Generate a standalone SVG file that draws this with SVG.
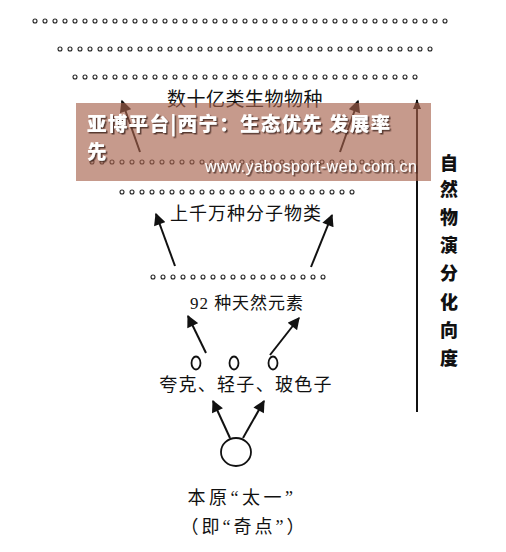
<svg xmlns="http://www.w3.org/2000/svg" width="506" height="552" viewBox="0 0 506 552">
<defs>
<style>
.t{font-family:"Liberation Serif","Noto Sans CJK SC",serif;fill:#111;text-anchor:middle}
.v{font-family:"Noto Sans CJK SC",sans-serif;font-weight:900;font-size:18px;fill:#111;text-anchor:middle}
.ln{stroke:#111;stroke-width:2;fill:none}
.ttl{font-family:"Noto Sans CJK SC",sans-serif;font-weight:900;font-size:19.5px;fill:#fff}
</style>
<marker id="ah" viewBox="0 0 10 10" refX="9" refY="5" markerWidth="6.5" markerHeight="6" markerUnits="strokeWidth" orient="auto">
<path d="M0,0 L10,5 L0,10 z" fill="#111"/>
</marker>
<marker id="ah2" viewBox="0 0 10 10" refX="9" refY="5" markerWidth="5" markerHeight="5" markerUnits="strokeWidth" orient="auto">
<path d="M0,1 L10,5 L0,9 z" fill="#111"/>
</marker>
<pattern id="dots" patternUnits="userSpaceOnUse" width="10" height="10" x="0" y="0">
<circle cx="5" cy="5" r="2" fill="#fff" stroke="#222" stroke-width="1.1"/>
</pattern>
<filter id="sh" x="-5%" y="-20%" width="110%" height="140%">
<feDropShadow dx="1.5" dy="1.5" stdDeviation="0.6" flood-color="#3a2018" flood-opacity="0.8"/>
</filter>
</defs>
<rect width="506" height="552" fill="#fff"/>

<g id="dot-rows">
<rect x="0" y="0" width="420" height="10" fill="url(#dots)" transform="translate(30,16)"/>
<rect x="0" y="0" width="380" height="10" fill="url(#dots)" transform="translate(55,44)"/>
<rect x="0" y="0" width="350" height="10" fill="url(#dots)" transform="translate(70,72)"/>
<rect x="0" y="0" width="320" height="10" fill="url(#dots)" transform="translate(87,157)"/>
<rect x="0" y="0" width="240" height="10" fill="url(#dots)" transform="translate(117,187)"/>
<rect x="0" y="0" width="180" height="10" fill="url(#dots)" transform="translate(148,272)"/>
</g>

<g id="connectors">
<line class="ln" x1="140" y1="152" x2="122" y2="101" marker-end="url(#ah)"/>
<line class="ln" x1="340" y1="152" x2="358" y2="101" marker-end="url(#ah)"/>
<line class="ln" x1="175" y1="266" x2="156" y2="214" marker-end="url(#ah)"/>
<line class="ln" x1="311" y1="267" x2="332" y2="215" marker-end="url(#ah)"/>
<line class="ln" x1="206" y1="353" x2="188" y2="316" marker-end="url(#ah)"/>
<line class="ln" x1="270" y1="355" x2="299" y2="318" marker-end="url(#ah)"/>
<line class="ln" x1="230" y1="438" x2="213" y2="401" marker-end="url(#ah)"/>
<line class="ln" x1="243" y1="438" x2="264" y2="401" marker-end="url(#ah)"/>
<line class="ln" x1="417" y1="412" x2="417" y2="100" marker-end="url(#ah2)" stroke-width="1.6"/>
</g>

<g id="n-species"><text class="t" x="245" y="106" font-size="19" letter-spacing="0.5">数十亿类生物物种</text></g>
<g id="n-molecules"><text class="t" x="246" y="220" font-size="18" letter-spacing="1">上千万种分子物类</text></g>
<g id="n-elements"><text class="t" x="247" y="309" font-size="17" letter-spacing="1">92 种天然元素</text></g>
<g id="n-particles">
<ellipse cx="196" cy="363" rx="4.5" ry="6.5" fill="none" stroke="#111" stroke-width="1.8"/>
<ellipse cx="234" cy="363" rx="4.5" ry="6.5" fill="none" stroke="#111" stroke-width="1.8"/>
<ellipse cx="273" cy="363" rx="4.5" ry="6.5" fill="none" stroke="#111" stroke-width="1.8"/>
<text class="t" x="246" y="391" font-size="18" letter-spacing="1.3">夸克、轻子、玻色子</text>
</g>
<g id="n-origin">
<ellipse cx="236" cy="452" rx="15" ry="14" fill="none" stroke="#111" stroke-width="1.8"/>
<text class="t" x="242" y="504" font-size="18" letter-spacing="3.5">本原“太一”</text>
<text class="t" x="244" y="533" font-size="18" letter-spacing="3">（即“奇点”）</text>
</g>
<g id="n-axis">
<text class="v" x="449" y="170">自</text>
<text class="v" x="449" y="196">然</text>
<text class="v" x="449" y="224">物</text>
<text class="v" x="449" y="252">演</text>
<text class="v" x="449" y="280">分</text>
<text class="v" x="449" y="309">化</text>
<text class="v" x="449" y="337">向</text>
<text class="v" x="449" y="365">度</text>
</g>

<g id="banner">
<rect x="76" y="103" width="355" height="78" fill="rgb(166,97,75)" fill-opacity="0.64"/>
<text class="ttl" filter="url(#sh)" letter-spacing="1.3"><tspan x="87" y="131">亚博平台|西宁：生态优先 发展率</tspan><tspan x="87" y="159">先</tspan></text>
<text x="417" y="172" font-family="Liberation Sans, sans-serif" font-size="16" fill="#fff" text-anchor="end" textLength="212" filter="url(#sh)">www.yabosport-web.com.cn</text>
</g>
</svg>
